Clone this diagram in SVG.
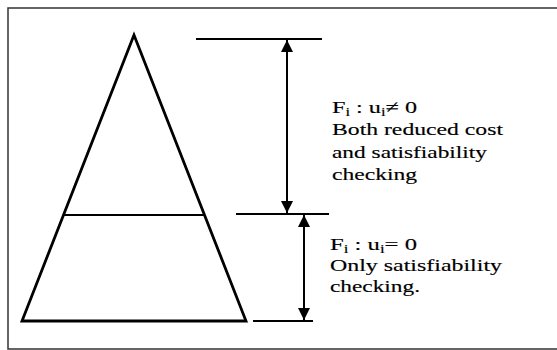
<svg xmlns="http://www.w3.org/2000/svg" width="557" height="350" viewBox="0 0 557 350">
<style>
.frame{fill:none;stroke:#333;stroke-width:1.5}
.shape{fill:none;stroke:#000;stroke-width:2.8;stroke-linejoin:miter}
.line{stroke:#000;stroke-width:2}
.conn{stroke:#000;stroke-width:2;fill:none;marker-start:url(#ah);marker-end:url(#ah)}
.lbl{font-family:"Liberation Serif","Times New Roman",serif;font-size:17.5px;fill:#000;stroke:#000;stroke-width:0.15}
</style>
<defs>
<marker id="ah" viewBox="0 0 12 12" refX="12" refY="6" markerWidth="12" markerHeight="12" markerUnits="userSpaceOnUse" orient="auto-start-reverse">
<path d="M0,0 L12,6 L0,12 Z" fill="#000"/>
</marker>
</defs>
<rect width="557" height="350" fill="#fff"/>
<path class="frame" d="M557,8 H8 V349 H557"/>
<g id="pyramid">
<path class="shape" d="M134,35 L22,321 L246,321 Z"/>
<line class="line" x1="63" y1="215" x2="204" y2="215"/>
</g>
<g id="levels">
<line class="line" x1="196" y1="39" x2="322" y2="39"/>
<line class="line" x1="236" y1="214" x2="329" y2="214"/>
<line class="line" x1="253" y1="321" x2="313" y2="321"/>
</g>
<g id="connectors">
<line class="conn" x1="287" y1="40" x2="287" y2="213"/>
<line class="conn" x1="304" y1="215" x2="304" y2="320"/>
</g>
<g id="label-upper">
<text class="lbl" x="332" y="113" textLength="85" lengthAdjust="spacingAndGlyphs">F<tspan font-size="12" dy="3">i</tspan><tspan dy="-3"> : u</tspan><tspan font-size="12" dy="3">i</tspan><tspan dy="-3">≠ 0</tspan></text>
<text class="lbl" x="332" y="135" textLength="171" lengthAdjust="spacingAndGlyphs">Both reduced cost</text>
<text class="lbl" x="332" y="158" textLength="155" lengthAdjust="spacingAndGlyphs">and satisfiability</text>
<text class="lbl" x="332" y="180" textLength="85" lengthAdjust="spacingAndGlyphs">checking</text>
</g>
<g id="label-lower">
<text class="lbl" x="330" y="250" textLength="87" lengthAdjust="spacingAndGlyphs">F<tspan font-size="12" dy="3">i</tspan><tspan dy="-3"> : u</tspan><tspan font-size="12" dy="3">i</tspan><tspan dy="-3">= 0</tspan></text>
<text class="lbl" x="330" y="271" textLength="172" lengthAdjust="spacingAndGlyphs">Only satisfiability</text>
<text class="lbl" x="330" y="292" textLength="90" lengthAdjust="spacingAndGlyphs">checking.</text>
</g>
</svg>
